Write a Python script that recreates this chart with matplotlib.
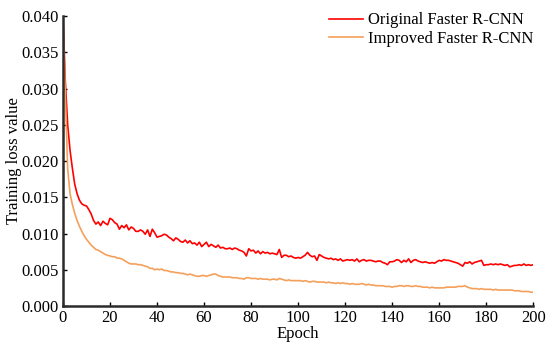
import matplotlib
matplotlib.use("Agg")
import matplotlib.pyplot as plt
import numpy as np

# valores (epocas 0..200)
epochs = list(range(0, 201))

original_loss = [
    0.0400, 0.0310, 0.0250, 0.0215, 0.0190, 0.0168, 0.0155, 0.0146, 0.0141, 0.0139,
    0.0138, 0.0133, 0.0127, 0.0118, 0.0113, 0.0116, 0.0111, 0.0117, 0.0114, 0.0112,
    0.0121, 0.0119, 0.0115, 0.0113, 0.0106, 0.0111, 0.0108, 0.0112, 0.0105, 0.0109,
    0.0107, 0.0103, 0.0103, 0.0105, 0.0103, 0.0099, 0.0105, 0.0096, 0.0106, 0.0101,
    0.0095, 0.0096, 0.0097, 0.0099, 0.0098, 0.0095, 0.0093, 0.0090, 0.0094, 0.0092,
    0.0089, 0.0088, 0.0091, 0.0087, 0.0090, 0.0086, 0.0087, 0.0084, 0.0088, 0.0082,
    0.0085, 0.0088, 0.0082, 0.0085, 0.0083, 0.0081, 0.0084, 0.0080, 0.0081, 0.0079,
    0.0079, 0.0080, 0.0078, 0.0080, 0.0079, 0.0077, 0.0076, 0.0074, 0.0069, 0.0079,
    0.0076, 0.0077, 0.0073, 0.0076, 0.0072, 0.0075, 0.0073, 0.0074, 0.0072, 0.0073,
    0.0072, 0.0071, 0.0078, 0.0067, 0.0070, 0.0070, 0.0068, 0.0069, 0.0067, 0.0066,
    0.0067, 0.0066, 0.0068, 0.0070, 0.0074, 0.0070, 0.0068, 0.0069, 0.0063, 0.0071,
    0.0069, 0.0067, 0.0066, 0.0065, 0.0066, 0.0064, 0.0065, 0.0063, 0.0065, 0.0062,
    0.0063, 0.0064, 0.0063, 0.0064, 0.0062, 0.0065, 0.0061, 0.0063, 0.0064, 0.0062,
    0.0063, 0.0063, 0.0062, 0.0061, 0.0062, 0.0062, 0.0060, 0.0059, 0.0057, 0.0061,
    0.0061, 0.0062, 0.0064, 0.0063, 0.0060, 0.0063, 0.0061, 0.0065, 0.0060, 0.0063,
    0.0064, 0.0062, 0.0061, 0.0060, 0.0061, 0.0060, 0.0059, 0.0060, 0.0059, 0.0061,
    0.0063, 0.0062, 0.0064, 0.0063, 0.0063, 0.0062, 0.0061, 0.0060, 0.0059, 0.0057,
    0.0055, 0.0060, 0.0059, 0.0061, 0.0058, 0.0060, 0.0061, 0.0062, 0.0063, 0.0056,
    0.0057, 0.0057, 0.0058, 0.0057, 0.0058, 0.0057, 0.0058, 0.0057, 0.0056, 0.0057,
    0.0054, 0.0055, 0.0056, 0.0056, 0.0057, 0.0056, 0.0058, 0.0056, 0.0057, 0.0056,
    0.0057,
]

improved_loss = [
    0.0400, 0.0290, 0.0190, 0.0155, 0.0140, 0.0128, 0.0118, 0.0110, 0.0103, 0.0097,
    0.0092, 0.0088, 0.0084, 0.0081, 0.0078, 0.0077, 0.0075, 0.0073, 0.0071, 0.0070,
    0.0069, 0.0068, 0.0068, 0.0066, 0.0066, 0.0065, 0.0063, 0.0061, 0.0059, 0.0058,
    0.0058, 0.0058, 0.0057, 0.0057, 0.0056, 0.0055, 0.0054, 0.0052, 0.0052, 0.0050,
    0.0051, 0.0050, 0.0051, 0.0049, 0.0049, 0.0048, 0.0047, 0.0047, 0.0046, 0.0046,
    0.0045, 0.0045, 0.0044, 0.0043, 0.0044, 0.0043, 0.0042, 0.0041, 0.0041, 0.0042,
    0.0042, 0.0041, 0.0042, 0.0043, 0.0044, 0.0044, 0.0042, 0.0041, 0.0040, 0.0040,
    0.0040, 0.0040, 0.0039, 0.0039, 0.0039, 0.0038, 0.0038, 0.0037, 0.0039, 0.0039,
    0.0038, 0.0038, 0.0038, 0.0037, 0.0038, 0.0037, 0.0037, 0.0037, 0.0036, 0.0037,
    0.0037, 0.0036, 0.0038, 0.0037, 0.0036, 0.0035, 0.0036, 0.0035, 0.0035, 0.0035,
    0.0035, 0.0035, 0.0034, 0.0035, 0.0034, 0.0033, 0.0034, 0.0034, 0.0033, 0.0033,
    0.0033, 0.0033, 0.0032, 0.0033, 0.0032, 0.0032, 0.0031, 0.0032, 0.0031, 0.0032,
    0.0031, 0.0031, 0.0030, 0.0031, 0.0030, 0.0030, 0.0030, 0.0031, 0.0030, 0.0029,
    0.0030, 0.0029, 0.0029, 0.0028, 0.0028, 0.0028, 0.0028, 0.0027, 0.0027, 0.0027,
    0.0026, 0.0027, 0.0027, 0.0028, 0.0028, 0.0027, 0.0028, 0.0028, 0.0027, 0.0027,
    0.0028, 0.0027, 0.0027, 0.0026, 0.0026, 0.0026, 0.0025, 0.0026, 0.0025, 0.0025,
    0.0025, 0.0025, 0.0025, 0.0026, 0.0026, 0.0026, 0.0026, 0.0026, 0.0027, 0.0027,
    0.0027, 0.0028, 0.0026, 0.0025, 0.0024, 0.0024, 0.0024, 0.0023, 0.0024, 0.0023,
    0.0023, 0.0023, 0.0023, 0.0022, 0.0023, 0.0022, 0.0022, 0.0022, 0.0022, 0.0022,
    0.0022, 0.0022, 0.0021, 0.0021, 0.0021, 0.0020, 0.0020, 0.0020, 0.0020, 0.0019,
    0.0019,
]

x_ticks = [0, 20, 40, 60, 80, 100, 120, 140, 160, 180, 200]
y_ticks = [0.000, 0.005, 0.010, 0.015, 0.020, 0.025, 0.030, 0.035, 0.040]

plt.rcParams["font.family"] = ["Liberation Serif", "DejaVu Serif"]
plt.rcParams["font.size"] = 12

fig = plt.figure(figsize=(5.5, 3.48), dpi=100)
ax = fig.add_axes([0.1145, 0.1207, 0.855, 0.833])

ax.plot(epochs, original_loss, color="#FF0000", lw=1.2, label="Original Faster R-CNN")
ax.plot(epochs, improved_loss, color="#F5A05A", lw=1.2, label="Improved Faster R-CNN")

ax.set_xlim(0, 200)
ax.set_ylim(0, 0.040)
ax.set_xticks(x_ticks)
ax.set_yticks(y_ticks)
ax.set_yticklabels([f"{v:.3f}" for v in y_ticks])

for s in ["top", "right"]:
    ax.spines[s].set_visible(False)
for s in ["left", "bottom"]:
    ax.spines[s].set_linewidth(1.8)
    ax.spines[s].set_color("#2b2b2b")

ax.tick_params(direction="in", length=3, width=1, colors="black", pad=3)

ax.set_xlabel("Epoch", labelpad=0)
ax.set_ylabel("Training loss value", va="center")
ax.yaxis.set_label_coords(-0.104, 0.5)

ax.legend(loc="upper right", frameon=False, handlelength=2.0, handletextpad=0.35,
          bbox_to_anchor=(1.012, 1.03), borderaxespad=0.2, borderpad=0.1,
          labelspacing=0.15)

fig.savefig("out.png", dpi=100)
